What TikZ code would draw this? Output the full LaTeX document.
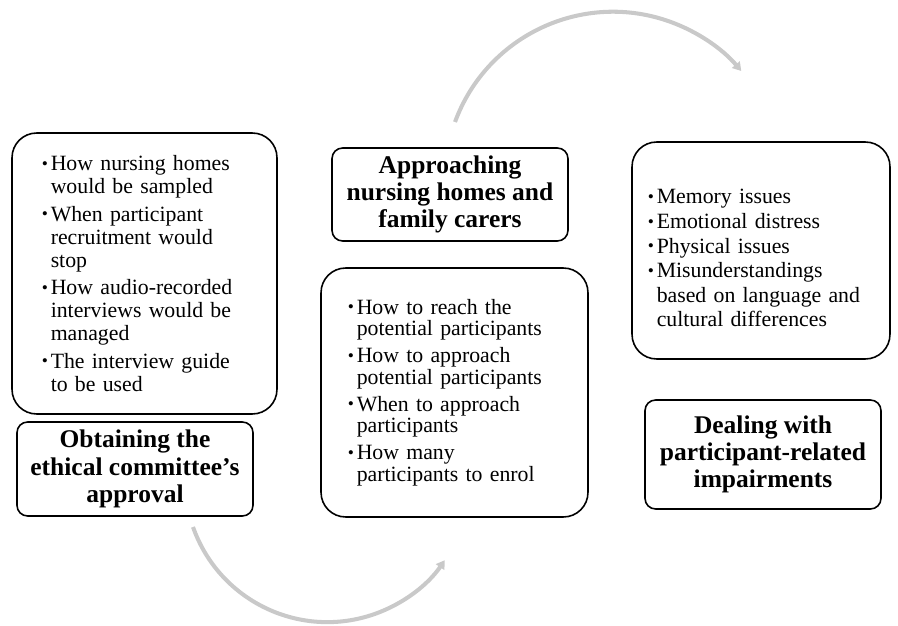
\documentclass[tikz,border=0pt]{standalone}
\usepackage{fontspec}
\setmainfont{Liberation Serif}
\usetikzlibrary{shapes,arrows.meta}

\newcommand\pitem[1]{\hangindent=4.4pt\hangafter=1\noindent\hbox to 4.4pt{\hskip-.6pt\raisebox{.8pt}{\scalebox{.8}{\textbullet}}\hss}#1\par}
\newcommand\pgap{\vskip 2.8pt}

\tikzset{
  listbox/.style={shape=rectangle,draw=black,line width=0.9pt,rounded corners=14pt,align=left,font=\fontsize{12.4}{13}\selectfont},
  headbox/.style={shape=rectangle,draw=black,line width=0.9pt,rounded corners=6pt,align=center,font=\bfseries\fontsize{14.5}{15.5}\selectfont},
  cyclearrow/.style={draw=black!21,line width=2.3pt,-{Triangle[length=4.8pt,width=5.6pt]}}
}

\begin{document}
\begin{tikzpicture}[x=0.02cm,y=-0.02cm]
\useasboundingbox (0,0) rectangle (898,625);

\node[listbox,minimum width=5.3cm,minimum height=5.62cm,text width=4.06cm] (0) at (144.5,273.5) {\pitem{How nursing homes\newline would be sampled}\pgap\pitem{When participant\newline recruitment would\newline stop}\pgap\pitem{How audio-recorded\newline interviews would be\newline managed}\pgap\pitem{The interview guide\newline to be used}};
\node[headbox,minimum width=4.72cm,minimum height=1.88cm] (1) at (135,469) {Obtaining the\\ethical committee’s\\approval};
\node[headbox,minimum width=4.72cm,minimum height=1.86cm] (2) at (450,194.5) {Approaching\\nursing homes and\\family carers};
\node[listbox,font=\fontsize{12.4}{12.4}\selectfont,minimum width=5.34cm,minimum height=4.98cm,text width=4.22cm] (3) at (454.5,392.5) {\pitem{How to reach the\newline potential participants}\pgap\pitem{How to approach\newline potential participants}\pgap\pitem{When to approach\newline participants}\pgap\pitem{How many\newline participants to enrol}};
\node[listbox,font=\fontsize{12.4}{14}\selectfont,minimum width=5.16cm,minimum height=4.34cm,text width=4.48cm] (4) at (761,250.5) {\vskip 3pt\pitem{Memory issues}\pitem{Emotional distress}\pitem{Physical issues}\pitem{Misunderstandings\newline based on language and\newline cultural differences}};
\node[headbox,minimum width=4.72cm,minimum height=2.18cm] (5) at (763,454.5) {Dealing with\\participant-related\\impairments};

\coordinate (t0) at (455,122);
\coordinate (b0) at (193,527);
\draw[cyclearrow] (t0) arc[start angle=200.2,end angle=319.6,radius=168.4];
\draw[cyclearrow] (b0) arc[start angle=160.6,end angle=34.4,radius=142.4];
\end{tikzpicture}
\end{document}
